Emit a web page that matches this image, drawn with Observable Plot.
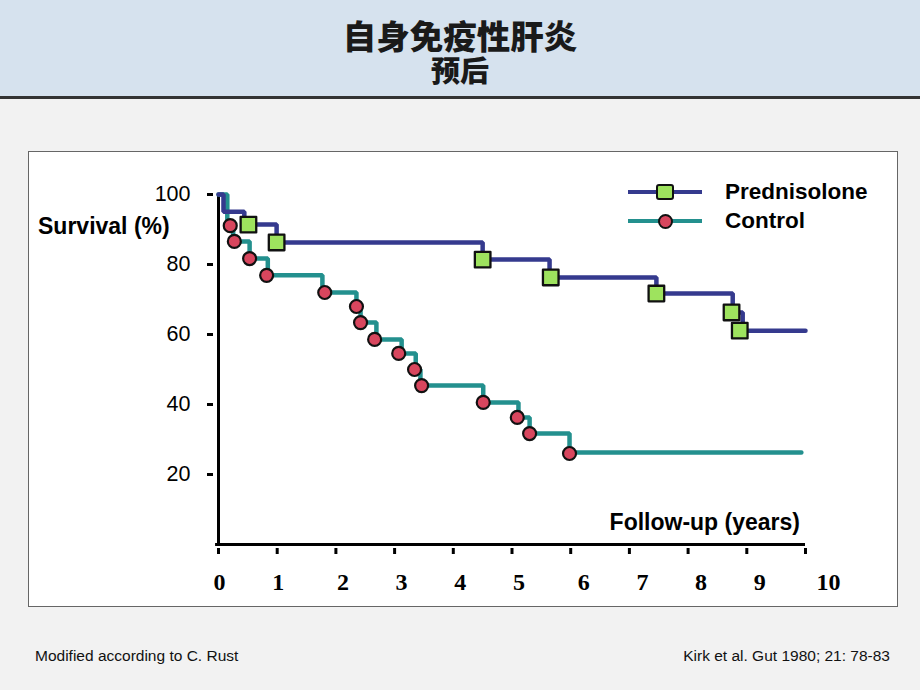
<!DOCTYPE html>
<html>
<head>
<meta charset="utf-8">
<script src="https://cdn.jsdelivr.net/npm/d3@7"></script>
<script src="https://cdn.jsdelivr.net/npm/@observablehq/plot@0.6"></script>
<style>
  body { margin: 0; background: #f2f2f2; }
  #page { position: relative; width: 920px; height: 690px; background: #f2f2f2; overflow: hidden;
          font-family: "Liberation Sans", Arial, sans-serif; color: #000; }
  #header { position: absolute; left: 0; top: 0; width: 920px; height: 96px; background: #d6e2ee;
            border-bottom: 3px solid #333; }
  .cjk { position: absolute; left: 0; width: 920px; text-align: center; font-family: "Noto Sans CJK SC", sans-serif;
         font-weight: 900; color: #1a1a1a; white-space: pre-line; }
  .cjk::first-line { font-size: 33.5px; }
  #box { position: absolute; left: 28px; top: 151px; width: 868px; height: 454px; background: #fff;
         border: 1.5px solid #666; }
  #chart { position: absolute; left: 0; top: 150px; }
  .lab { position: absolute; font-weight: 700; font-size: 23px; line-height: 28px; white-space: nowrap; }
  .foot { position: absolute; top: 647px; font-family: "Liberation Sans Narrow", "Liberation Sans", Arial, sans-serif;
          font-size: 15.5px; color: #111; white-space: nowrap; }
  .legrow { position: absolute; left: 628px; width: 74px; height: 4.5px; }
  .legtext { position: absolute; left: 725px; font-weight: 700; font-size: 22.5px; line-height: 26px; white-space: nowrap; }
</style>
</head>
<body>
<div id="page">
  <div id="header">
    <div class="cjk" id="title" style="top:17px;font-size:29px;line-height:35px;"></div>
  </div>
  <div id="box"></div>
  <div id="chart"></div>
  <div class="lab" style="left:38px;top:212px;">Survival (%)</div>
  <div class="lab" style="right:120px;top:508px;">Follow-up (years)</div>
  <div id="legend"></div>
  <div class="foot" style="left:35px;">Modified according to C. Rust</div>
  <div class="foot" style="right:30px;">Kirk et al. Gut 1980; 21: 78-83</div>
</div>
<script>
document.getElementById("title").textContent = "自身免疫性肝炎\n预后";

// ---- data ----
const seriesNames = ["Prednisolone", "Control"];
// Kaplan-Meier step curves (time in years, survival %)
const predTime = [0, 0.085, 0.44, 0.99, 4.50, 5.64, 7.46, 8.76, 8.93, 10.0];
const predSurv = [100, 95.1, 91.4, 86.3, 81.4, 76.3, 71.7, 66.3, 61.1, 61.1];
const ctrlTime = [0, 0.15, 0.25, 0.53, 0.84, 1.77, 2.35, 2.42, 2.69, 3.12, 3.36, 3.44, 4.51, 5.11, 5.30, 5.98, 9.93];
const ctrlSurv = [100, 91.1, 86.6, 81.7, 76.9, 72.0, 68.0, 63.4, 58.6, 54.6, 50.0, 45.4, 40.6, 36.3, 31.7, 26.3, 26.3];
// event markers
const predMarkTime = [0.51, 0.99, 4.50, 5.66, 7.46, 8.74, 8.88];
const predMarkSurv = [91.4, 86.3, 81.4, 76.3, 71.7, 66.3, 61.1];
const ctrlMarkTime = [0.20, 0.27, 0.53, 0.82, 1.81, 2.35, 2.42, 2.66, 3.07, 3.34, 3.46, 4.51, 5.09, 5.30, 5.98];
const ctrlMarkSurv = [91.1, 86.6, 81.7, 76.9, 72.0, 68.0, 63.4, 58.6, 54.6, 50.0, 45.4, 40.6, 36.3, 31.7, 26.0];
const xTicks = [0, 1, 2, 3, 4, 5, 6, 7, 8, 9, 10];
const yTicks = [20, 40, 60, 80, 100];

// ---- styles ----
const predLine = "#353a8e", ctrlLine = "#23908e";
const predFill = "#9ee35e", ctrlFill = "#d8465e";

const pred = predTime.map((t, i) => ({t, s: predSurv[i]}));
const ctrl = ctrlTime.map((t, i) => ({t, s: ctrlSurv[i]}));
const predM = predMarkTime.map((t, i) => ({t, s: predMarkSurv[i]}));
const ctrlM = ctrlMarkTime.map((t, i) => ({t, s: ctrlMarkSurv[i]}));

// label groups (labels drift slightly right of ticks in the original)
const labelGroups = [
  {ticks: [0, 1], dx: 1},
  {ticks: [2, 3, 4, 5], dx: 7},
  {ticks: [6, 7, 8, 9], dx: 13},
  {ticks: [10], dx: 23}
];

const chart = Plot.plot({
  width: 920,
  height: 460,
  marginLeft: 218,
  marginRight: 115,
  marginTop: 44,
  marginBottom: 66,
  style: {background: "transparent", overflow: "visible", fontFamily: "Liberation Sans, Arial, sans-serif", fontSize: "21.5px", color: "#000"},
  x: {domain: [0, 10]},
  y: {domain: [0, 100]},
  marks: [
    Plot.axisY({ticks: yTicks, tickSize: 6, tickPadding: 17, dx: -5, strokeWidth: 3, label: null, fill: "#000", fontSize: 21.5}),
    Plot.axisX({ticks: xTicks, tickSize: 6, dy: 4, strokeWidth: 3, tickFormat: () => "", label: null}),
    ...labelGroups.map(g => Plot.axisX({ticks: g.ticks, tickSize: 0, tickPadding: 28, dx: g.dx, label: null,
      fontFamily: "Liberation Serif, Times New Roman, serif", fontWeight: 700, fontSize: 24, fill: "#000"})),
    Plot.ruleX([0], {y1: 0, y2: 100, strokeWidth: 3, stroke: "#000"}),
    Plot.ruleY([0], {x1: -0.05, x2: 10, strokeWidth: 3, stroke: "#000"}),
    Plot.line(ctrl, {x: "t", y: "s", curve: "step-after", stroke: ctrlLine, strokeWidth: 4.5, strokeLinejoin: "miter"}),
    Plot.line(pred, {x: "t", y: "s", curve: "step-after", stroke: predLine, strokeWidth: 4.5, strokeLinejoin: "miter"}),
    Plot.dot(ctrlM, {x: "t", y: "s", r: 6.5, fill: ctrlFill, stroke: "#111", strokeWidth: 2.2}),
    Plot.dot(predM, {x: "t", y: "s", symbol: "square", r: 8.8, fill: predFill, stroke: "#111", strokeWidth: 2.3, strokeLinejoin: "round"})
  ]
});
document.getElementById("chart").appendChild(chart);

// ---- legend ----
const legend = document.getElementById("legend");
const legendItems = [
  {name: seriesNames[0], line: predLine, fill: predFill, shape: "square", y: 192},
  {name: seriesNames[1], line: ctrlLine, fill: ctrlFill, shape: "circle", y: 221}
];
legendItems.forEach(it => {
  const ln = document.createElement("div");
  ln.className = "legrow";
  ln.style.top = (it.y - 2.25) + "px";
  ln.style.background = it.line;
  legend.appendChild(ln);
  const mk = document.createElement("div");
  mk.style.position = "absolute";
  mk.style.background = it.fill;
  mk.style.border = "2.2px solid #111";
  mk.style.boxSizing = "border-box";
  if (it.shape === "square") {
    mk.style.width = "18px"; mk.style.height = "16px"; mk.style.borderRadius = "3px";
    mk.style.left = (665 - 9) + "px"; mk.style.top = (it.y - 8) + "px";
  } else {
    mk.style.width = "15px"; mk.style.height = "15px"; mk.style.borderRadius = "50%";
    mk.style.left = (665 - 7.5) + "px"; mk.style.top = (it.y - 7.5) + "px";
  }
  legend.appendChild(mk);
  const tx = document.createElement("div");
  tx.className = "legtext";
  tx.style.top = (it.y - 13) + "px";
  tx.textContent = it.name;
  legend.appendChild(tx);
});
</script>
</body>
</html>
